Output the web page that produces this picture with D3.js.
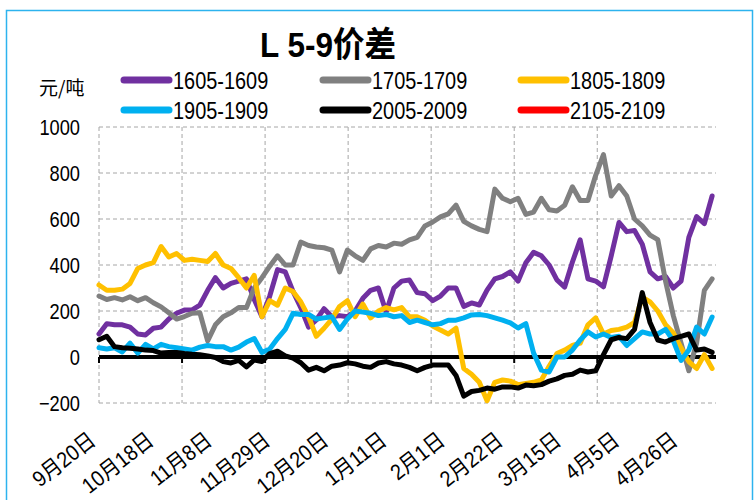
<!DOCTYPE html>
<html>
<head>
<meta charset="utf-8">
<script src="https://cdn.jsdelivr.net/npm/d3@7"></script>
<style>
  body { margin: 0; background: #fff; }
  svg { display: block; }
  text { font-family: "Liberation Sans", Arial, "Noto Sans CJK SC", sans-serif; fill: #000; }
</style>
</head>
<body>
<svg width="756" height="500"></svg>
<script>
const width = 756;
const height = 500;
const margin = { top: 127, right: 40, bottom: 97, left: 99 };
const narrow = 0.83; // the original uses a condensed face

// date labels on the category axis (one every 15 trading days)
const dateLabels = ["9月20日", "10月18日", "11月8日", "11月29日", "12月20日", "1月11日",
  "2月1日", "2月22日", "3月15日", "4月5日", "4月26日"];
const labelStep = 15;
const gridStep = 21.4;
const nDays = 159;
const pointStep = 2; // values below are read every 2 trading days

const yTicks = [-200, 0, 200, 400, 600, 800, 1000];

const s1605 = [100, 145, 140, 140, 130, 100, 96, 125, 130, 165,
  190, 204, 205, 226, 290, 345, 300, 320, 330, 340,
  250, 175, 265, 380, 370, 285, 215, 130, 161, 210,
  175, 180, 175, 200, 255, 290, 300, 196, 300, 330,
  335, 280, 275, 245, 265, 300, 300, 220, 235, 226,
  291, 340, 350, 370, 330, 410, 455, 440, 400, 335,
  304, 413, 509, 340, 330, 305, 440, 585, 545, 550,
  490, 370, 340, 350, 300, 330, 520, 610, 580, 700];

const s1705 = [265, 250, 258, 248, 262, 245, 258, 236, 218, 192,
  165, 176, 190, 192, 70, 140, 175, 192, 215, 215,
  300, 345, 395, 440, 400, 400, 500, 485, 478, 475,
  465, 370, 465, 440, 420, 470, 485, 478, 495, 490,
  509, 520, 570, 587, 609, 622, 660, 590, 570, 555,
  545, 730, 690, 675, 690, 620, 630, 690, 640, 635,
  660, 740, 680, 680, 790, 880, 700, 745, 700, 600,
  570, 530, 510, 330, 180, 60, -60, 60, 290, 340];

const s1805 = [313, 290, 290, 295, 320, 385, 400, 410, 480, 435,
  450, 420, 425, 420, 415, 450, 400, 385, 345, 300,
  355, 175, 245, 225, 300, 285, 240, 175, 90, 125,
  165, 220, 245, 175, 230, 170, 200, 215, 205, 215,
  175, 175, 160, 135, 117, 100, 125, -50, -75, -110,
  -190, -110, -100, -105, -120, -115, -110, -100, -40, 15,
  30, 50, 60, 140, 170, 100, 115, 120, 130, 150,
  260, 240, 200, 140, 105, 40, -20, -50, 10, -50];

const s1905 = [40, 35, 40, 22, 60, 17, 55, 35, 55, 45,
  40, 35, 30, 43, 50, 45, 45, 30, 43, 65,
  80, 20, 35, 80, 120, 190, 185, 185, 165, 170,
  175, 120, 165, 200, 195, 190, 180, 185, 175, 180,
  150, 160, 150, 140, 145, 160, 160, 170, 183, 185,
  180, 170, 160, 148, 126, 145, 17, -57, -65, 0,
  0, 30, 74, 109, 87, 100, 85, 90, 50, 80,
  109, 100, 100, 120, 70, -15, 30, 130, 100, 174];

const s2005 = [75, 90, 45, 40, 38, 35, 30, 28, 17, 20,
  20, 15, 12, 10, 5, -2, -20, -26, -15, -43,
  -13, -20, 15, 25, 5, -5, -25, -57, -45, -60,
  -40, -35, -25, -30, -40, -45, -26, -20, -30, -35,
  -45, -60, -45, -35, -35, -35, -80, -170, -150, -145,
  -135, -140, -130, -130, -135, -122, -125, -120, -105, -95,
  -80, -75, -57, -65, -60, 10, 75, 85, 80, 120,
  280, 150, 74, 65, 80, 90, 100, 30, 35, 20];

const s2105 = [];

const series = [
  { name: "1605-1609", color: "#7030A0", values: s1605 },
  { name: "1705-1709", color: "#808080", values: s1705 },
  { name: "1805-1809", color: "#FFC000", values: s1805 },
  { name: "1905-1909", color: "#00B0F0", values: s1905 },
  { name: "2005-2009", color: "#000000", values: s2005 },
  { name: "2105-2109", color: "#FF0000", values: s2105 }
];

const svg = d3.select("svg");

// outer frame
svg.append("rect")
  .attr("x", 6.5).attr("y", 10.5)
  .attr("width", 746).attr("height", 500)
  .attr("fill", "#fff")
  .attr("stroke", "#2DB3EE")
  .attr("stroke-width", 1.5);

const x = d3.scaleLinear()
  .domain([0, nDays])
  .range([margin.left, width - margin.right]);

const y = d3.scaleLinear()
  .domain([-200, 1000])
  .range([height - margin.bottom, margin.top]);

// grid
const grid = svg.append("g")
  .attr("stroke", "#A6A6A6")
  .attr("stroke-width", 1)
  .attr("stroke-dasharray", "4,3");

grid.selectAll(".h")
  .data(yTicks)
  .join("line")
  .attr("x1", x(0)).attr("x2", x(nDays))
  .attr("y1", d => y(d)).attr("y2", d => y(d));

const gridIdx = d3.range(0, nDays - 10, gridStep);
grid.selectAll(".v")
  .data(gridIdx)
  .join("line")
  .attr("x1", d => x(d)).attr("x2", d => x(d))
  .attr("y1", y(1000)).attr("y2", y(-200));

// y tick labels
svg.append("g")
  .selectAll("text")
  .data(yTicks)
  .join("text")
  .attr("transform", d => `translate(80,${y(d)}) scale(${narrow},1)`)
  .attr("dy", "0.36em")
  .attr("text-anchor", "end")
  .attr("font-size", 22)
  .text(d => d < 0 ? "\u2212" + Math.abs(d) : d);

// zero axis line with ticks
svg.append("line")
  .attr("x1", x(0)).attr("x2", x(nDays))
  .attr("y1", y(0)).attr("y2", y(0))
  .attr("stroke", "#000")
  .attr("stroke-width", 4);

svg.append("g")
  .selectAll("line")
  .data(gridIdx)
  .join("line")
  .attr("x1", d => x(d)).attr("x2", d => x(d))
  .attr("y1", y(0)).attr("y2", y(0) + 6)
  .attr("stroke", "#000")
  .attr("stroke-width", 2);

// x labels
svg.append("g")
  .selectAll("text")
  .data(dateLabels)
  .join("text")
  .attr("transform", (d, i) => `translate(${x(i * labelStep) - 2},443) rotate(-38) scale(0.9,1)`)
  .attr("text-anchor", "end")
  .attr("font-size", 22)
  .text(d => d);

// series lines
const line = d3.line()
  .x((d, i) => x(i * pointStep))
  .y(d => y(d));

svg.append("g")
  .selectAll("path")
  .data(series.filter(s => s.values.length))
  .join("path")
  .attr("d", d => line(d.values))
  .attr("fill", "none")
  .attr("stroke", d => d.color)
  .attr("stroke-width", 5)
  .attr("stroke-linejoin", "round")
  .attr("stroke-linecap", "round");

// title + unit
svg.append("text")
  .attr("transform", "translate(328,57) scale(0.9,1)")
  .attr("text-anchor", "middle")
  .attr("font-size", 35)
  .attr("font-weight", "bold")
  .text("L 5-9价差");

svg.append("text")
  .attr("x", 39).attr("y", 95)
  .attr("font-size", 19)
  .style("font-family", "'Noto Sans CJK SC', sans-serif")
  .text("元/吨");

// legend
const legendCols = [121, 320, 518];
const legendRows = [80, 110];
const legend = svg.append("g")
  .selectAll("g")
  .data(series)
  .join("g")
  .attr("transform", (d, i) => `translate(${legendCols[i % 3]},${legendRows[Math.floor(i / 3)]})`);

legend.append("line")
  .attr("x1", 3).attr("x2", 48)
  .attr("stroke", d => d.color)
  .attr("stroke-width", 7)
  .attr("stroke-linecap", "round");

legend.append("text")
  .attr("transform", `translate(52,0) scale(${narrow},1)`)
  .attr("dy", "0.36em")
  .attr("font-size", 24)
  .text(d => d.name);
</script>
</body>
</html>
